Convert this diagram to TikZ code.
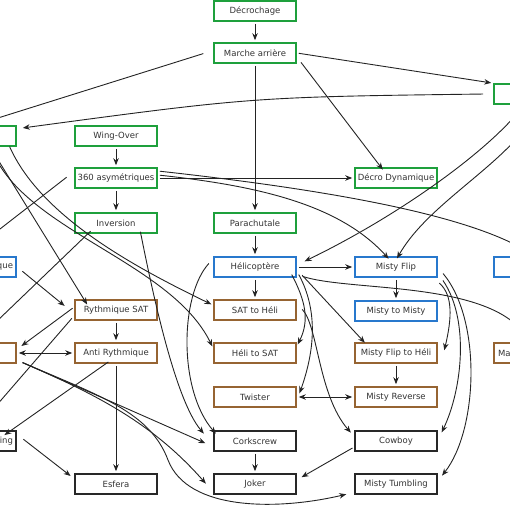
\documentclass[tikz,border=0pt]{standalone}
\usepackage{fontspec}
\setmainfont{DejaVu Sans}
\usetikzlibrary{arrows.meta}
\definecolor{cgreen}{RGB}{30,160,60}
\definecolor{cblue}{RGB}{40,120,205}
\definecolor{cbrown}{RGB}{150,100,50}
\definecolor{cblack}{RGB}{40,40,40}
\definecolor{cline}{RGB}{35,35,35}
\begin{document}
\begin{tikzpicture}[x=1pt,y=-1pt,
  box/.style={draw,line width=1.6pt,minimum width=82pt,minimum height=20pt,inner sep=0pt,fill=white,font=\fontsize{8.5}{10}\selectfont,text=black!80},
  gbox/.style={box,draw=cgreen},
  bbox/.style={box,draw=cblue},
  rbox/.style={box,draw=cbrown},
  kbox/.style={box,draw=cblack},
  arr/.style={line width=0.9pt,draw=cline,-{Stealth[length=7pt,width=5.5pt]},shorten >=2pt,shorten <=2pt},
  darr/.style={line width=0.9pt,draw=cline,{Stealth[length=7pt,width=5.5pt]}-{Stealth[length=7pt,width=5.5pt]},shorten >=2pt,shorten <=2pt}]
\useasboundingbox (0,0) rectangle (510,510);
\clip (0,0) rectangle (510,510);
% nodes
\node[gbox] (dec) at (255,11) {Décrochage};
\node[gbox] (ma) at (255,53) {Marche arrière};
\node[gbox] (rg) at (535,94) {};
\node[gbox] (lg) at (-25,136) {};
\node[gbox] (wo) at (116,136) {Wing-Over};
\node[gbox] (a360) at (116,178) {360 asymétriques};
\node[gbox] (dd) at (396,178) {Décro Dynamique};
\node[gbox] (inv) at (116,223) {Inversion};
\node[gbox] (para) at (255,223) {Parachutale};
\node[bbox,text width=76pt,align=right] (lb) at (-25,267) {que};
\node[bbox] (hel) at (255,267) {Hélicoptère};
\node[bbox] (mf) at (396,267) {Misty Flip};
\node[bbox] (rb) at (535,267) {};
\node[rbox] (rs) at (116,310) {Rythmique SAT};
\node[rbox] (sath) at (255,310) {SAT to Héli};
\node[bbox] (mm) at (396,311) {Misty to Misty};
\node[rbox] (lbr) at (-25,353) {};
\node[rbox] (ar) at (116,353) {Anti Rythmique};
\node[rbox] (hs) at (255,353) {Héli to SAT};
\node[rbox] (mfh) at (396,353) {Misty Flip to Héli};
\node[rbox,text width=74pt,align=left] (rbr) at (535,353) {Ma};
\node[rbox] (tw) at (255,397) {Twister};
\node[rbox] (mr) at (396,397) {Misty Reverse};
\node[kbox,text width=76pt,align=right] (lk) at (-25,441) {ing};
\node[kbox] (cs) at (255,441) {Corkscrew};
\node[kbox] (cb) at (396,441) {Cowboy};
\node[kbox] (esf) at (116,484) {Esfera};
\node[kbox] (jk) at (255,484) {Joker};
\node[kbox] (mt) at (396,484) {Misty Tumbling};
% edges
\draw[arr] (dec) -- (ma);
\draw[arr] (ma.east) -- (rg.north west);
\draw[arr] ([xshift=3pt,yshift=3pt]ma.south east) -- ([xshift=-12pt,yshift=-4pt]dd.north);
\draw[arr] (ma) -- (para);
\draw[arr] ([xshift=-8pt]ma.west) -- (lg.north);
\draw[arr] ([xshift=-8pt]rg.west) .. controls (253,97) .. ([xshift=4pt,yshift=-3pt]lg.north east);
\draw[arr] (wo) -- (a360);
\draw[arr] (a360) -- (inv);
\draw[arr] (a360) -- (dd);
\draw[arr] ([yshift=3pt]a360.east) .. controls (260,186) and (340,205) .. ([xshift=-6pt,yshift=-4pt]mf.north);
\draw[arr] ([yshift=7pt]a360.east) .. controls (330,190) and (470,215) .. (rb.north);
\draw[arr] ([xshift=-6pt,yshift=2pt]a360.west) -- ([xshift=-10pt]lb.north);
\draw[arr] ([xshift=-10pt,yshift=1pt]rg.south) .. controls (490,150) and (400,215) .. ([xshift=6pt,yshift=-6pt]hel.north east);
\draw[arr] ([xshift=5pt,yshift=1pt]rg.south) .. controls (515,160) and (430,200) .. ([yshift=-4pt]mf.north);
\draw[arr] (para) -- (hel);
\draw[arr] (hel) -- (sath);
\draw[arr] (hel) -- (mf);
\draw[arr] ([xshift=4pt,yshift=4pt]hel.south east) -- ([xshift=12pt,yshift=-2pt]mfh.north west);
\draw[arr] ([xshift=4pt,yshift=2pt]hel.south east) .. controls (350,292) and (490,280) .. ([xshift=-5pt]rbr.north);
\draw[arr] ([xshift=-6pt,yshift=5pt]hel.south east) .. controls (305,300) and (310,320) .. ([yshift=-4pt]hs.north east);
\draw[arr] ([xshift=1pt,yshift=5pt]hel.south east) .. controls (318,310) and (315,350) .. ([xshift=2pt,yshift=-9pt]tw.north east);
\draw[arr] ([xshift=-3pt,yshift=5pt]hel.west) .. controls (180,295) and (178,390) .. ([xshift=4pt,yshift=-5pt]cs.north west);
\draw[arr] ([xshift=24pt,yshift=4pt]inv.south) .. controls (152,290) and (175,400) .. ([xshift=-8pt,yshift=-5pt]cs.north west);
\draw[arr] ([xshift=4pt,yshift=2pt]sath.east) .. controls (318,325) and (318,395) .. ([xshift=-2pt,yshift=-4pt]mf.north west |- cb.north);
\draw[arr] (mf) -- (mm);
\draw[arr] ([yshift=-4pt]mf.south east) .. controls (453,295) and (452,318) .. ([xshift=6pt,yshift=-10pt]mfh.north east);
\draw[arr] ([xshift=4pt,yshift=-1pt]mf.south east) .. controls (470,320) and (462,390) .. ([xshift=3pt,yshift=-4pt]cb.north east);
\draw[arr] ([xshift=4pt,yshift=-5pt]mf.east) .. controls (482,320) and (478,430) .. ([xshift=3pt,yshift=-4pt]mt.north east);
\draw[arr] (mfh) -- (mr);
\draw[darr] (tw) -- (mr);
\draw[arr] ([yshift=-6pt]cb.west) -- ([xshift=3pt,yshift=-5pt]jk.north east);
\draw[arr] (cs) -- (jk);
\draw[arr] (rs) -- (ar);
\draw[arr] ([yshift=3pt]rs.west) -- ([xshift=3pt,yshift=-5pt]lbr.north east);
\draw[darr] (lbr) -- (ar);
\draw[arr] (ar) -- (esf);
\draw[arr] ([xshift=-6pt,yshift=3pt]ar.south) -- ([xshift=-14pt,yshift=-6pt]lk.north east);
\draw[arr] ([xshift=5pt,yshift=3pt]lk.east) -- ([xshift=-2pt,yshift=-4pt]esf.north west);
\draw[arr] ([xshift=4pt,yshift=-3pt]lb.east) -- ([xshift=-8pt,yshift=-8pt]rs.north west);
\draw[arr] ([xshift=15pt]lg.south) -- ([xshift=14pt,yshift=-7pt]rs.north west);
\draw[arr] ([xshift=-1pt,yshift=4pt]rs.south west) -- (lk.north);
\draw[arr] ([xshift=-24pt,yshift=4pt]inv.south) -- (lbr.north);
\draw[arr] ([xshift=-8pt,yshift=2pt]lg.south east) .. controls (40,215) and (130,265) .. ([yshift=-6pt]sath.north west);
\draw[arr] ([xshift=15pt,yshift=2pt]lg.south) .. controls (20,230) and (170,260) .. ([yshift=-6pt]hs.north west);
\draw[arr] ([xshift=4pt,yshift=2pt]lbr.south east) -- ([xshift=-6pt,yshift=-3pt]cs.west);
\draw[arr] ([xshift=4pt,yshift=2pt]lbr.south east) .. controls (90,392) and (150,420) .. ([xshift=-6pt,yshift=-12pt]jk.north west);
\draw[arr] ([xshift=4pt,yshift=2pt]lbr.south east) .. controls (100,396) and (150,412) .. (168,460) .. controls (188,512) and (280,510) .. ([xshift=-6pt,yshift=1pt]mt.south west);
\end{tikzpicture}
\end{document}
